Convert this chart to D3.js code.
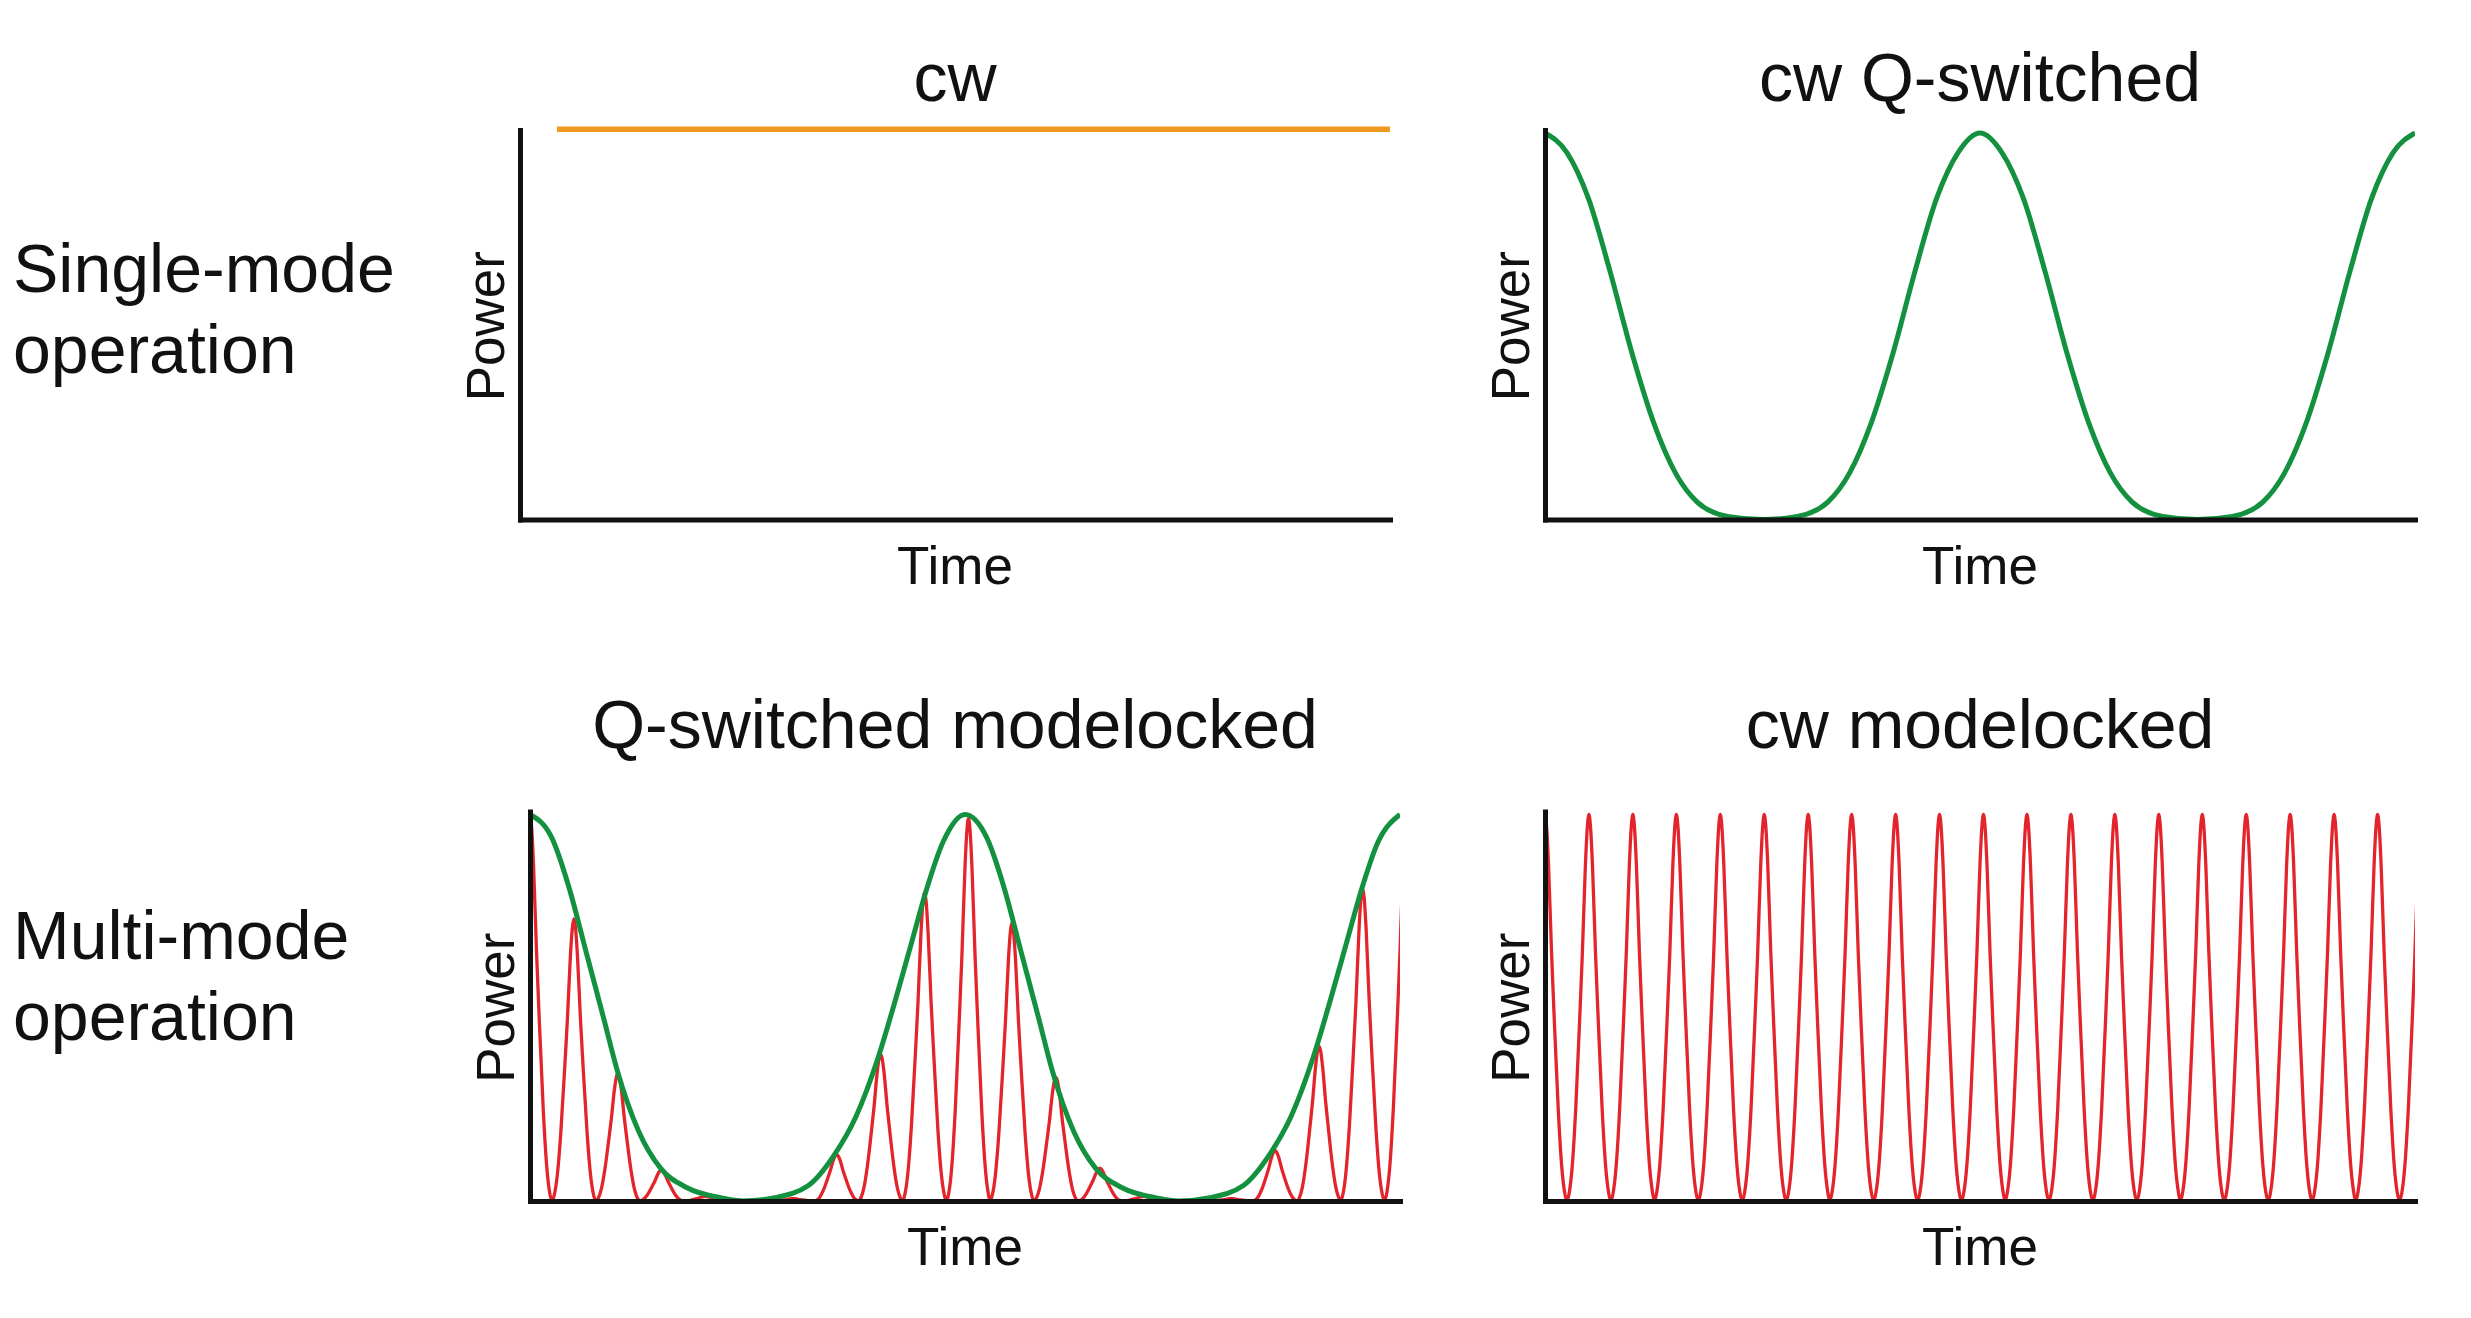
<!DOCTYPE html>
<html>
<head>
<meta charset="utf-8">
<script src="https://d3js.org/d3.v7.min.js"></script>
<style>
	body { margin: 0; background: #fff; }
	text { font-family: "Liberation Sans", Arial, Helvetica, sans-serif; fill: #111; }
</style>
</head>
<body>
<div class="chart-container"></div>
<script>
const w = 2471;
const h = 1318;

// labels
const panelTitles = ["cw", "cw Q-switched", "Q-switched modelocked", "cw modelocked"];
const rowLabels = [["Single-mode", "operation"], ["Multi-mode", "operation"]];
const xLabel = "Time";
const yLabel = "Power";

// time is in Q-switch periods (axis = 2 periods), power is relative
const cwTime = [0.085, 2.0];
const cwPower = [1.01, 1.01];

// cw Q-switched envelope
const qsTime = [0, 0.05, 0.10, 0.15, 0.20, 0.25, 0.30, 0.35, 0.42, 0.50, 0.58, 0.65, 0.70, 0.75, 0.80, 0.85, 0.90, 0.95, 1.00,
	1.05, 1.10, 1.15, 1.20, 1.25, 1.30, 1.35, 1.42, 1.50, 1.58, 1.65, 1.70, 1.75, 1.80, 1.85, 1.90, 1.95, 2.00];
const qsPower = [1, 0.95, 0.83, 0.64, 0.43, 0.25, 0.12, 0.045, 0.008, 0, 0.008, 0.045, 0.12, 0.25, 0.43, 0.64, 0.83, 0.95, 1,
	0.95, 0.83, 0.64, 0.43, 0.25, 0.12, 0.045, 0.008, 0, 0.008, 0.045, 0.12, 0.25, 0.43, 0.64, 0.83, 0.95, 1];

// Q-switched modelocked envelope
const qmlEnvTime = [0, 0.05, 0.09, 0.13, 0.17, 0.20, 0.25, 0.30, 0.36, 0.44, 0.49, 0.56, 0.64, 0.70, 0.75, 0.80, 0.84, 0.88, 0.91, 0.95, 1.00,
	1.05, 1.09, 1.13, 1.17, 1.20, 1.25, 1.30, 1.36, 1.44, 1.49, 1.56, 1.64, 1.70, 1.75, 1.80, 1.84, 1.88, 1.91, 1.95, 2.00];
const qmlEnvPower = [1, 0.94, 0.81, 0.64, 0.47, 0.34, 0.18, 0.085, 0.035, 0.008, 0, 0.008, 0.04, 0.12, 0.22, 0.37, 0.52, 0.68, 0.80, 0.93, 1,
	0.94, 0.81, 0.64, 0.47, 0.34, 0.18, 0.085, 0.035, 0.008, 0, 0.008, 0.04, 0.12, 0.22, 0.37, 0.52, 0.68, 0.80, 0.93, 1];

// modelocked pulse train: peak times and peak heights
const pulseTime = [0, 0.101, 0.202, 0.302, 0.403, 0.504, 0.605, 0.705, 0.806, 0.907, 1.008,
	1.108, 1.209, 1.310, 1.411, 1.511, 1.612, 1.713, 1.814, 1.914, 2.015];
const qmlPulsePeak = [1, 0.73, 0.33, 0.08, 0.012, 0, 0.006, 0.12, 0.38, 0.80, 0.99,
	0.72, 0.32, 0.085, 0.012, 0, 0.006, 0.13, 0.40, 0.81, 1];
const cwmlPulsePeak = [1, 1, 1, 1, 1, 1, 1, 1, 1, 1, 1,
	1, 1, 1, 1, 1, 1, 1, 1, 1, 1];

// shape of one pulse (offset in pulse periods, relative height)
const pulseOffset = [-0.5, -0.45, -0.38, -0.3, -0.2, -0.15, -0.08, -0.035, 0, 0.035, 0.08, 0.15, 0.2, 0.3, 0.38, 0.45];
const pulseShape = [0, 0.02, 0.09, 0.24, 0.5, 0.64, 0.87, 0.97, 1, 0.97, 0.87, 0.64, 0.5, 0.24, 0.09, 0.02];

const colors = { cw: "#ef9a1f", envelope: "#14913f", pulses: "#e3242b", axis: "#111" };

// build a pulse train from the peaks and the pulse shape
function pulseTrain(times, peaks) {
	const spacing = times[1] - times[0];
	const pts = [];
	times.forEach(function(t, i) {
		pulseOffset.forEach(function(o, j) {
			pts.push([t + o * spacing, peaks[i] * pulseShape[j]]);
		});
	});
	return pts;
}

const zip = (a, b) => a.map((d, i) => [d, b[i]]);

const plotW = 870;
const plotH = 386.5;

const panels = [
	{ title: panelTitles[0], x0: 520, base: 519.5, titleX: 955, titleY: 101,
		series: [{ pts: zip(cwTime, cwPower), color: colors.cw, width: 5.5 }] },
	{ title: panelTitles[1], x0: 1545, base: 519.5, titleX: 1980, titleY: 101,
		series: [{ pts: zip(qsTime, qsPower), color: colors.envelope, width: 5 }] },
	{ title: panelTitles[2], x0: 530, base: 1201, titleX: 955, titleY: 748,
		series: [{ pts: pulseTrain(pulseTime, qmlPulsePeak), color: colors.pulses, width: 3.3 },
			{ pts: zip(qmlEnvTime, qmlEnvPower), color: colors.envelope, width: 5 }] },
	{ title: panelTitles[3], x0: 1545, base: 1201, titleX: 1980, titleY: 748,
		series: [{ pts: pulseTrain(pulseTime, cwmlPulsePeak), color: colors.pulses, width: 3.3 }] }
];

const svg = d3.select(".chart-container")
	.append("svg")
	.attr("width", w)
	.attr("height", h);

svg.append("rect").attr("width", w).attr("height", h).attr("fill", "#fff");

// row labels
const rowBaselines = [[291.7, 373.3], [959, 1040]];
rowLabels.forEach(function(lines, r) {
	lines.forEach(function(txt, k) {
		svg.append("text")
			.attr("x", 13)
			.attr("y", rowBaselines[r][k])
			.style("font-size", "68px")
			.text(txt);
	});
});

panels.forEach(function(p, i) {
	const x = d3.scaleLinear().domain([0, 2]).range([p.x0, p.x0 + plotW]);
	const y = d3.scaleLinear().domain([0, 1]).range([p.base, p.base - plotH]);

	const g = svg.append("g").attr("class", "panel");

	g.append("clipPath")
		.attr("id", "clip" + i)
		.append("rect")
		.attr("x", p.x0)
		.attr("y", p.base - plotH - 30)
		.attr("width", plotW)
		.attr("height", plotH + 40);

	const line = d3.line()
		.x(d => x(d[0]))
		.y(d => y(d[1]))
		.curve(d3.curveMonotoneX);

	p.series.forEach(function(s) {
		g.append("path")
			.datum(s.pts)
			.attr("clip-path", "url(#clip" + i + ")")
			.attr("fill", "none")
			.attr("stroke", s.color)
			.attr("stroke-width", s.width)
			.attr("stroke-linejoin", "round")
			.attr("d", line);
	});

	// axes without ticks
	const xAxis = g.append("g")
		.attr("transform", "translate(0," + p.base + ")")
		.call(d3.axisBottom(x).ticks(0).tickSizeOuter(0));
	const yAxis = g.append("g")
		.attr("transform", "translate(" + p.x0 + ",0)")
		.call(d3.axisLeft(y.copy().domain([0, 1.008]).range([p.base, p.base - plotH - 3])).ticks(0).tickSizeOuter(0));
	[xAxis, yAxis].forEach(function(a) {
		a.select(".domain")
			.attr("stroke", colors.axis)
			.attr("stroke-width", 5)
			.attr("stroke-linecap", "square");
	});

	g.append("text")
		.attr("x", p.titleX)
		.attr("y", p.titleY)
		.attr("text-anchor", "middle")
		.style("font-size", "68px")
		.text(p.title);

	g.append("text")
		.attr("x", p.x0 + plotW / 2)
		.attr("y", p.base + 64)
		.attr("text-anchor", "middle")
		.style("font-size", "53px")
		.text(xLabel);

	g.append("text")
		.attr("transform", "translate(" + (p.x0 - 16) + "," + (p.base - plotH / 2) + ") rotate(-90)")
		.attr("text-anchor", "middle")
		.style("font-size", "53px")
		.text(yLabel);
});
</script>
</body>
</html>
